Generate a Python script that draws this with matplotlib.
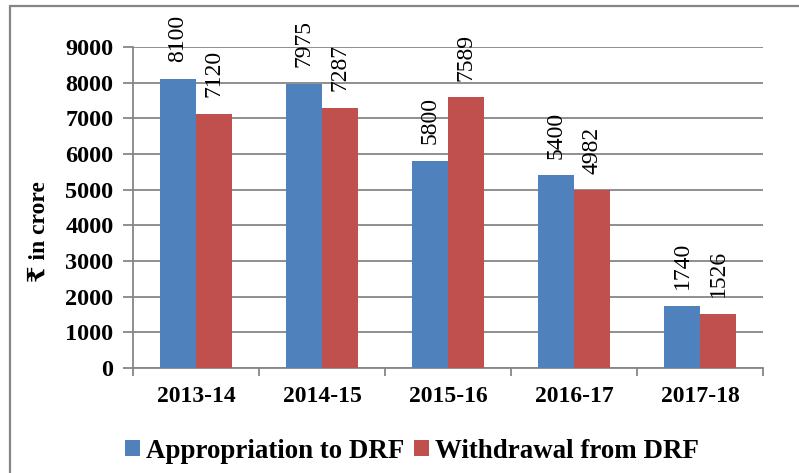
import numpy as np
import matplotlib
matplotlib.use("Agg")
import matplotlib.pyplot as plt
from matplotlib.patches import Rectangle

# data
years = ["2013-14", "2014-15", "2015-16", "2016-17", "2017-18"]
appropriation = [8100, 7975, 5800, 5400, 1740]
withdrawal = [7120, 7287, 7589, 4982, 1526]

SERIF = ["Liberation Serif", "DejaVu Serif", "DejaVu Sans"]
plt.rcParams["font.family"] = SERIF

BLUE = "#4F81BD"
RED = "#C0504D"
GRID = "#868686"

fig = plt.figure(figsize=(7.99, 4.73), dpi=100)
ax = fig.add_axes([0.1665, 0.222, 0.7885, 0.6786])

x = np.arange(len(years))
w = 0.2857
b1 = ax.bar(x - w / 2, appropriation, w, color=BLUE, label="Appropriation to DRF", zorder=3)
b2 = ax.bar(x + w / 2, withdrawal, w, color=RED, label="Withdrawal from DRF", zorder=3)

# data labels, rotated like the original
for bars, vals in ((b1, appropriation), (b2, withdrawal)):
    for r, v in zip(bars, vals):
        ax.annotate(str(v), (r.get_x() + r.get_width() / 2, r.get_height()),
                    xytext=(0, 12), textcoords="offset points", rotation=90,
                    ha="center", va="bottom", fontsize=17, zorder=4,
                    annotation_clip=False)

ax.set_xlim(-0.5, len(years) - 0.5)
ax.set_ylim(0, 9000)
ax.set_yticks(range(0, 9001, 1000))
ax.set_xticks(x)
ax.set_xticklabels(years, fontsize=17, fontweight="bold")
ax.set_xticks(np.arange(-0.5, len(years), 1), minor=True)
ax.tick_params(axis="x", which="major", length=0, pad=13)
ax.tick_params(axis="x", which="minor", length=6, width=1.3, color=GRID)
ax.tick_params(axis="y", length=7, width=1.3, color=GRID, labelsize=17.5, pad=7)
for lab in ax.get_yticklabels():
    lab.set_fontweight("bold")

ax.yaxis.grid(True, color=GRID, linewidth=1.3, zorder=0)
ax.set_axisbelow(True)
for s in ("top", "right"):
    ax.spines[s].set_visible(False)
for s in ("left", "bottom"):
    ax.spines[s].set_color(GRID)
    ax.spines[s].set_linewidth(1.3)

fig.text(39 / 799, 1 - 232 / 473, "₹ in crore", rotation=90, ha="center", va="center",
         fontsize=17, fontweight="bold")

fig.legend(loc="center", bbox_to_anchor=(412 / 799, 1 - 451 / 473), ncol=2, frameon=False,
           prop={"size": 19.4, "weight": "bold"}, handlelength=0.53, handleheight=0.53,
           handletextpad=0.23, columnspacing=0.38, borderpad=0)

# outer chart border (right/bottom fall outside the picture)
fig.patches.append(Rectangle((10 / 799, -0.1), 1.2, 1 - 6 / 473 + 0.1, transform=fig.transFigure,
                             fill=False, edgecolor=GRID, linewidth=1.6))

fig.savefig("out.png", dpi=100)
